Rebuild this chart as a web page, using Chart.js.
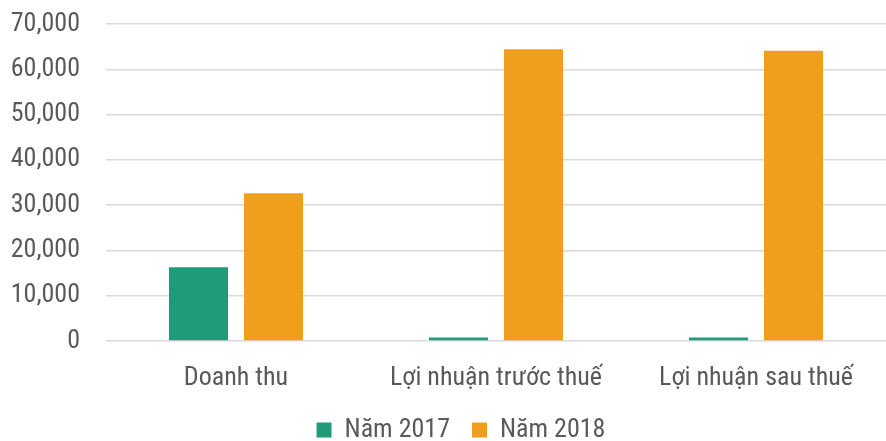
<!DOCTYPE html>
<html>
<head>
<meta charset="utf-8">
<script src="https://cdn.jsdelivr.net/npm/chart.js@4"></script>
<style>
   html, body { margin: 0; padding: 0; background: #fff; }
   #wrap { width: 886px; height: 441px; }
</style>
</head>
<body>
<div id="wrap"><canvas id="chart"></canvas></div>
<script>
// categories and values
const categories = ["Doanh thu", "Lợi nhuận trước thuế", "Lợi nhuận sau thuế"];
const seriesNames = ["Năm 2017", "Năm 2018"];
const values2017 = [16300, 800, 800];
const values2018 = [32600, 64400, 64100];
const yTicks = [0, 10000, 20000, 30000, 40000, 50000, 60000, 70000];

const fontFamily = "'Roboto Condensed', Roboto, sans-serif";
const textColor = "#595959";

// nudge the legend a bit to the right, like the original
const legendShift = {
   id: "legendShift",
   afterLayout(chart) {
      chart.legend.left += 18;
      chart.legend.right += 18;
   },
};

const ctx = document.getElementById("chart").getContext("2d");
const chart = new Chart(ctx, {
   type: "bar",
   data: {
      labels: categories,
      datasets: [
         {
            label: seriesNames[0],
            data: values2017,
            backgroundColor: "#1f9b7a",
            barPercentage: 0.787,
            categoryPercentage: 0.577,
         },
         {
            label: seriesNames[1],
            data: values2018,
            backgroundColor: "#f09f1c",
            barPercentage: 0.787,
            categoryPercentage: 0.577,
         },
      ],
   },
   plugins: [legendShift],
   options: {
      responsive: true,
      maintainAspectRatio: false,
      animation: false,
      layout: { padding: { top: 24, right: 0, left: 0, bottom: -12 } },
      plugins: {
         tooltip: { enabled: false },
         legend: {
            position: "bottom",
            labels: {
               boxWidth: 15,
               boxHeight: 15,
               padding: 22,
               color: textColor,
               font: { family: fontFamily, size: 26 },
            },
         },
      },
      scales: {
         x: {
            afterFit: function (scale) {
               scale.height = 54;
            },
            grid: { display: false, drawTicks: false },
            border: { display: false },
            ticks: {
               color: textColor,
               font: { family: fontFamily, size: 26 },
               padding: 22,
               maxRotation: 0,
               autoSkip: false,
            },
         },
         y: {
            min: 0,
            max: 70000,
            afterFit: function (scale) {
               scale.width = 106;
               scale.paddingTop = 0;
               scale.paddingBottom = 0;
            },
            afterBuildTicks: function (scale) {
               scale.ticks = yTicks.map((v) => ({ value: v }));
            },
            grid: { color: "#d9d9d9", lineWidth: 1.5, drawTicks: false },
            border: { display: false },
            ticks: {
               color: textColor,
               font: { family: fontFamily, size: 26 },
               padding: 26,
               callback: (v) => v.toLocaleString("en-US"),
            },
         },
      },
   },
});
</script>
</body>
</html>
